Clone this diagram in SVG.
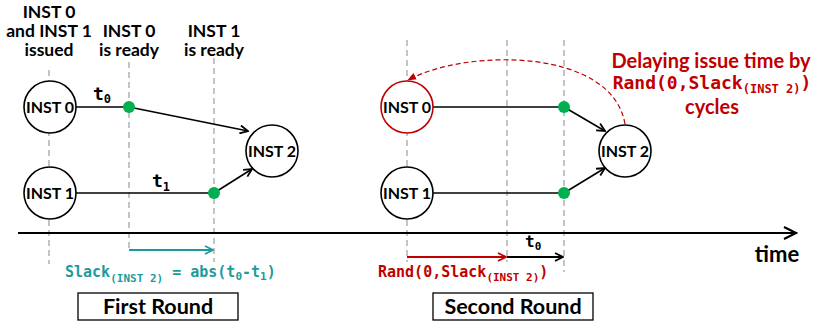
<svg xmlns="http://www.w3.org/2000/svg" width="818" height="324" viewBox="0 0 818 324">
  <style>
    .guide { stroke: #a6a6a6; stroke-width: 1.3; stroke-dasharray: 6 4; fill: none; }
    .node circle { fill: #ffffff; stroke: #000000; stroke-width: 1.6; }
    .node.delayed circle { stroke: #c00000; }
    .node text, .lbl { font-family: Lato, "Liberation Sans", sans-serif; font-weight: bold; text-anchor: middle; fill: #000000; }
    .node text { font-size: 16px; }
    .lbl { font-size: 17.5px; }
    .mono { font-family: "DejaVu Sans Mono", "Liberation Mono", monospace; font-weight: bold; }
    .edge { stroke: #000000; stroke-width: 1.6; fill: none; }
    .dot { fill: #00b050; }
    .red { fill: #c00000; }
    .teal { fill: #1a9c9c; }
    .round rect { fill: #ffffff; stroke: #000000; stroke-width: 1.3; }
    .round text { font-family: Lato, "Liberation Sans", sans-serif; font-weight: bold; font-size: 21.5px; text-anchor: middle; }
  </style>
  <defs>
    <marker id="arrow" viewBox="0 0 10 10" refX="9" refY="5" markerWidth="10" markerHeight="10" markerUnits="userSpaceOnUse" orient="auto">
      <path d="M1,1 L9,5 L1,9" fill="none" stroke="#000000" stroke-width="1.8"/>
    </marker>
    <marker id="arrow-big" viewBox="0 0 10 10" refX="9" refY="5" markerWidth="15" markerHeight="15" markerUnits="userSpaceOnUse" orient="auto">
      <path d="M1,1 L9,5 L1,9" fill="none" stroke="#000000" stroke-width="1.4"/>
    </marker>
    <marker id="arrow-teal" viewBox="0 0 10 10" refX="9" refY="5" markerWidth="10" markerHeight="10" markerUnits="userSpaceOnUse" orient="auto">
      <path d="M1,1 L9,5 L1,9" fill="none" stroke="#1a9c9c" stroke-width="1.8"/>
    </marker>
    <marker id="arrow-red" viewBox="0 0 10 10" refX="9" refY="5" markerWidth="10" markerHeight="10" markerUnits="userSpaceOnUse" orient="auto">
      <path d="M1,1 L9,5 L1,9" fill="none" stroke="#c00000" stroke-width="1.8"/>
    </marker>
    <marker id="arrow-red-solid" viewBox="0 0 10 10" refX="9" refY="5" markerWidth="9" markerHeight="9" markerUnits="userSpaceOnUse" orient="auto">
      <path d="M0,1 L10,5 L0,9 Z" fill="#c00000"/>
    </marker>
  </defs>

  <!-- time guides -->
  <g id="guides">
    <line class="guide" x1="49" y1="70" x2="49" y2="264"/>
    <line class="guide" x1="129" y1="62" x2="129" y2="250"/>
    <line class="guide" x1="214" y1="58" x2="214" y2="262"/>
    <line class="guide" x1="407" y1="40" x2="407" y2="262"/>
    <line class="guide" x1="507" y1="40" x2="507" y2="262"/>
    <line class="guide" x1="564" y1="40" x2="564" y2="272"/>
  </g>

  <!-- event headings -->
  <g id="headings">
    <text class="lbl" x="49" y="18">INST 0</text>
    <text class="lbl" x="49" y="37">and INST 1</text>
    <text class="lbl" x="49" y="56">issued</text>
    <text class="lbl" x="129" y="37">INST 0</text>
    <text class="lbl" x="129" y="56">is ready</text>
    <text class="lbl" x="214" y="37">INST 1</text>
    <text class="lbl" x="214" y="56">is ready</text>
  </g>

  <!-- time axis -->
  <g id="axis">
    <line x1="18" y1="233" x2="796" y2="233" stroke="#000000" stroke-width="2" marker-end="url(#arrow-big)"/>
    <text class="lbl" x="777" y="262" style="font-size:22px">time</text>
  </g>

  <!-- dependency connectors -->
  <g id="connectors">
    <line class="edge" x1="76" y1="107" x2="129" y2="107"/>
    <line class="edge" x1="76" y1="193" x2="214" y2="193"/>
    <line class="edge" x1="129" y1="107" x2="248" y2="131" marker-end="url(#arrow)"/>
    <line class="edge" x1="214" y1="193" x2="252" y2="169" marker-end="url(#arrow)"/>

    <line class="edge" x1="433" y1="107" x2="564" y2="107"/>
    <line class="edge" x1="433" y1="193" x2="564" y2="193"/>
    <line class="edge" x1="564" y1="107" x2="605" y2="131" marker-end="url(#arrow)"/>
    <line class="edge" x1="564" y1="193" x2="605" y2="168" marker-end="url(#arrow)"/>

    <path d="M625,124 C612,48 468,48 408,80" fill="none" stroke="#c00000" stroke-width="1.2" stroke-dasharray="5 3" marker-end="url(#arrow-red-solid)"/>
  </g>

  <!-- ready points -->
  <g id="ready-points">
    <circle class="dot" cx="129" cy="107" r="6"/>
    <circle class="dot" cx="214" cy="193" r="6"/>
    <circle class="dot" cx="564" cy="107" r="6"/>
    <circle class="dot" cx="564" cy="193" r="6"/>
  </g>

  <!-- first round nodes -->
  <g id="r1-inst0" class="node">
    <circle cx="50" cy="107" r="26"/>
    <text x="50" y="112.5">INST 0</text>
  </g>
  <g id="r1-inst1" class="node">
    <circle cx="50" cy="193" r="26"/>
    <text x="50" y="198.5">INST 1</text>
  </g>
  <g id="r1-inst2" class="node">
    <circle cx="272" cy="151" r="26"/>
    <text x="272" y="156.5">INST 2</text>
  </g>

  <!-- second round nodes -->
  <g id="r2-inst0" class="node delayed">
    <circle cx="407" cy="107" r="26"/>
    <text x="407" y="112.5">INST 0</text>
  </g>
  <g id="r2-inst1" class="node">
    <circle cx="407" cy="193" r="26"/>
    <text x="407" y="198.5">INST 1</text>
  </g>
  <g id="r2-inst2" class="node">
    <circle cx="625" cy="151" r="26"/>
    <text x="625" y="156.5">INST 2</text>
  </g>

  <!-- latency labels -->
  <g id="latencies">
    <text class="mono" x="93" y="100" font-size="18">t<tspan font-size="12" dy="3">0</tspan></text>
    <text class="mono" x="152" y="187" font-size="18">t<tspan font-size="12" dy="4">1</tspan></text>
    <text class="mono" x="525" y="247" font-size="16">t<tspan font-size="11" dy="3">0</tspan></text>
  </g>

  <!-- slack measurement -->
  <g id="slack">
    <line x1="129" y1="250" x2="213" y2="250" stroke="#1a9c9c" stroke-width="1.8" marker-end="url(#arrow-teal)"/>
    <text class="mono teal" x="65" y="277" font-size="15">Slack<tspan font-size="11" dy="5">(INST 2)</tspan><tspan dy="-5"> = abs(t</tspan><tspan font-size="11" dy="3">0</tspan><tspan dy="-3">-t</tspan><tspan font-size="11" dy="3">1</tspan><tspan dy="-3">)</tspan></text>
  </g>

  <!-- random delay -->
  <g id="delay">
    <line x1="407" y1="257" x2="506" y2="257" stroke="#c00000" stroke-width="1.8" marker-end="url(#arrow-red)"/>
    <line x1="507" y1="257" x2="563" y2="257" stroke="#000000" stroke-width="1.8" marker-end="url(#arrow)"/>
    <text class="mono red" x="378" y="277" font-size="15">Rand(0,Slack<tspan font-size="11" dy="4">(INST 2)</tspan><tspan dy="-4">)</tspan></text>
    <text class="lbl red" x="711" y="68" style="font-size:20px">Delaying issue time by</text>
    <text class="mono red" x="712" y="89" font-size="18" text-anchor="middle">Rand(0,Slack<tspan font-size="12" dy="4">(INST 2)</tspan><tspan dy="-4">)</tspan></text>
    <text class="lbl red" x="712" y="114" style="font-size:20px">cycles</text>
  </g>

  <!-- round captions -->
  <g id="first-round" class="round">
    <rect x="78" y="293" width="160" height="27"/>
    <text x="158" y="314">First Round</text>
  </g>
  <g id="second-round" class="round">
    <rect x="433" y="293" width="160" height="27"/>
    <text x="513" y="314">Second Round</text>
  </g>
</svg>
